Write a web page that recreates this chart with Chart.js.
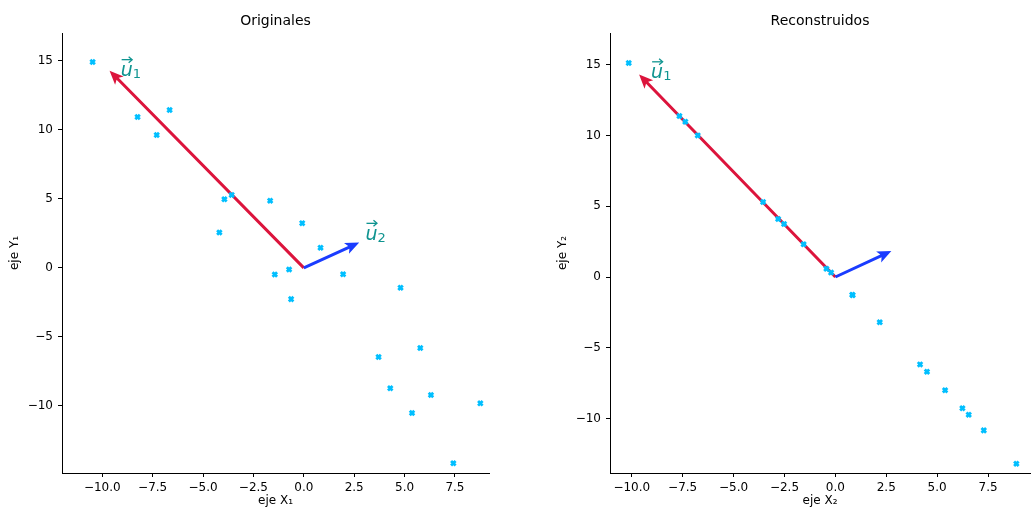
<!DOCTYPE html>
<html><head><meta charset="utf-8">
<script src="https://cdn.jsdelivr.net/npm/chart.js@4/dist/chart.umd.min.js"></script>
<style>
html,body{margin:0;padding:0;background:#fff;overflow:hidden;width:1031px;height:513px}
#c1{position:absolute;left:0;top:0}
#c2{position:absolute;left:515px;top:0}
</style></head><body>
<canvas id="c1" width="515" height="513" style="width:515px;height:513px"></canvas>
<canvas id="c2" width="516" height="513" style="width:516px;height:513px"></canvas>
<script>
// ---- data ----
const origX = [-10.48,-8.25,-7.30,-6.66,-3.94,-3.58,-1.67,-4.19,-0.08,0.83,-1.44,-0.73,-0.63,1.95,4.80,3.71,5.78,4.29,6.31,5.37,8.76,7.42];
const origY = [14.93,10.94,9.64,11.45,4.98,5.29,4.86,2.56,3.24,1.45,-0.48,-0.12,-2.27,-0.46,-1.45,-6.47,-5.82,-8.74,-9.23,-10.53,-9.83,-14.18];
const reconX = [-10.15,-7.66,-7.37,-6.76,-3.55,-2.81,-2.52,-1.56,-0.44,-0.21,0.83,0.85,2.18,4.16,4.50,5.39,6.24,6.55,7.29,8.89];
const reconY = [15.11,11.37,10.97,10.00,5.30,4.10,3.74,2.31,0.59,0.31,-1.25,-1.28,-3.20,-6.17,-6.69,-8.00,-9.27,-9.72,-10.83,-13.18];
const u1 = [-9.64, 14.30];
const u2 = [2.75, 1.83];
const xTicks = [-10, -7.5, -5, -2.5, 0, 2.5, 5, 7.5];
const yTicks = [-10, -5, 0, 5, 10, 15];
const titles = ['Originales', 'Reconstruidos'];
const xLabels = ['eje X\u2081', 'eje X\u2082'];
const yLabels = ['eje Y\u2081', 'eje Y\u2082'];

const FONT = '"DejaVu Sans", "Liberation Sans", sans-serif';
const TEAL = '#0f9490';
const RED = '#dc143c';
const BLUE = '#1a3cff';
const PT = '#00bfff';

function fmtX(v){ return (v < 0 ? '\u2212' : '') + Math.abs(v).toFixed(1); }
function fmtY(v){ return (v < 0 ? '\u2212' : '') + Math.abs(v).toFixed(0); }

function drawArrow(ctx, x0, y0, x1, y1, color){
  const sw = 3, L = 14, W = 6, A = 0.82;
  const dx = x1 - x0, dy = y1 - y0, len = Math.hypot(dx, dy);
  const ux = dx/len, uy = dy/len, nx = -uy, ny = ux;
  const bx = x1 - ux*L, by = y1 - uy*L;
  const ax = x1 - ux*L*A, ay = y1 - uy*L*A;
  ctx.save();
  ctx.fillStyle = color;
  ctx.beginPath();
  ctx.moveTo(x0 + nx*sw/2, y0 + ny*sw/2);
  ctx.lineTo(ax + nx*sw/2, ay + ny*sw/2);
  ctx.lineTo(bx + nx*W, by + ny*W);
  ctx.lineTo(x1, y1);
  ctx.lineTo(bx - nx*W, by - ny*W);
  ctx.lineTo(ax - nx*sw/2, ay - ny*sw/2);
  ctx.lineTo(x0 - nx*sw/2, y0 - ny*sw/2);
  ctx.closePath();
  ctx.fill();
  ctx.restore();
}

function drawVec(ctx, x, y, sub){
  ctx.save();
  ctx.fillStyle = TEAL; ctx.strokeStyle = TEAL;
  ctx.textBaseline = 'alphabetic'; ctx.textAlign = 'left';
  ctx.font = 'italic 19px ' + FONT;
  ctx.fillText('u', x, y);
  const w = ctx.measureText('u').width;
  ctx.font = '13px ' + FONT;
  ctx.fillText(sub, x + w, y + 2);
  const ay = y - 16.5;
  ctx.lineWidth = 1.3;
  ctx.beginPath(); ctx.moveTo(x + 1, ay); ctx.lineTo(x + 11, ay); ctx.stroke();
  ctx.beginPath(); ctx.moveTo(x + 8, ay - 3); ctx.lineTo(x + 11.5, ay); ctx.lineTo(x + 8, ay + 3); ctx.stroke();
  ctx.restore();
}

const decorPlugin = {
  id: 'decor',
  beforeDatasetsDraw(chart, args, opts){
    const ctx = chart.ctx, xs = chart.scales.x, ys = chart.scales.y;
    const ox = xs.getPixelForValue(0), oy = ys.getPixelForValue(0);
    drawArrow(ctx, ox, oy, xs.getPixelForValue(u1[0]), ys.getPixelForValue(u1[1]), RED);
    drawArrow(ctx, ox, oy, xs.getPixelForValue(u2[0]), ys.getPixelForValue(u2[1]), BLUE);
  },
  afterDraw(chart, args, opts){
    const ctx = chart.ctx, xs = chart.scales.x, ys = chart.scales.y, ca = chart.chartArea;
    ctx.save();
    ctx.fillStyle = '#000';
    ctx.font = '14px ' + FONT;
    ctx.textAlign = 'center'; ctx.textBaseline = 'alphabetic';
    ctx.fillText(opts.title, (ca.left + ca.right)/2, 25);
    ctx.restore();
    for (const lab of opts.labels){
      drawVec(ctx, xs.getPixelForValue(lab.x), ys.getPixelForValue(lab.y), lab.sub);
    }
  }
};

function makeChart(id, idx, xs, ys, xr, yr, yw, padRight, yTitlePad, labels){
  return new Chart(document.getElementById(id), {
    type: 'scatter',
    data: { datasets: [{
      data: xs.map((v, i) => ({x: v, y: ys[i]})),
      pointStyle: 'crossRot', radius: 3.2, borderWidth: 2.8,
      borderColor: PT, backgroundColor: PT
    }]},
    options: {
      responsive: false, animation: false, events: [],
      layout: { autoPadding: false, padding: { top: 33, right: padRight, left: 0, bottom: 0 } },
      plugins: { legend: {display: false}, tooltip: {enabled: false},
        decor: { title: titles[idx], labels: labels } },
      scales: {
        x: {
          type: 'linear', min: xr[0], max: xr[1],
          afterFit(s){ s.height = 40; s.paddingLeft = 0; s.paddingRight = 0; },
          afterBuildTicks(s){ s.ticks = xTicks.map(v => ({value: v})); },
          grid: { drawOnChartArea: false, drawTicks: true, tickLength: 4, color: '#000', lineWidth: 1 },
          border: { display: true, color: '#000', width: 1 },
          ticks: { color: '#000', font: { family: FONT, size: 12 }, padding: 4, maxRotation: 0, autoSkip: false, callback: v => fmtX(v) },
          title: { display: true, text: xLabels[idx], color: '#000', font: { family: FONT, size: 12 }, padding: { top: 0, bottom: 5 } }
        },
        y: {
          type: 'linear', min: yr[0], max: yr[1],
          afterFit(s){ s.width = yw; s.paddingTop = 0; s.paddingBottom = 0; },
          afterBuildTicks(s){ s.ticks = yTicks.map(v => ({value: v})); },
          grid: { drawOnChartArea: false, drawTicks: true, tickLength: 4, color: '#000', lineWidth: 1 },
          border: { display: true, color: '#000', width: 1 },
          ticks: { color: '#000', font: { family: FONT, size: 12 }, padding: 5, autoSkip: false, callback: v => fmtY(v) },
          title: { display: true, text: yLabels[idx], color: '#000', font: { family: FONT, size: 12 }, padding: { top: yTitlePad, bottom: 0 } }
        }
      }
    },
    plugins: [decorPlugin]
  });
}

makeChart('c1', 0, origX, origY, [-12.0, 9.19], [-14.88, 17.03], 62, 26, 8,
  [{x: -9.09, y: 13.9, sub: '1'}, {x: 3.06, y: 2.03, sub: '2'}]);
makeChart('c2', 1, reconX, reconY, [-11.07, 9.56], [-13.84, 17.23], 95, 1, 41,
  [{x: -9.05, y: 14.03, sub: '1'}]);
</script>
</body></html>
